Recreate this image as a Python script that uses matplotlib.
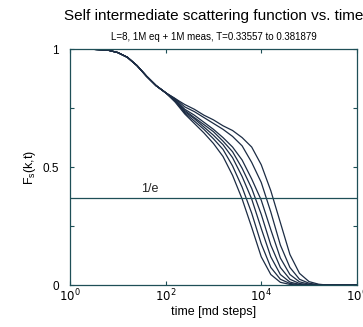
import numpy as np
import matplotlib
matplotlib.use("Agg")
import matplotlib.pyplot as plt
from matplotlib.ticker import FixedLocator, FixedFormatter

# log10 of time [md steps], shared by every curve
logt = [0.0, 0.4, 0.8, 1.0, 1.2, 1.4, 1.6, 1.8, 2.0, 2.2, 2.4, 2.6, 2.8, 3.0,
        3.2, 3.4, 3.6, 3.8, 4.0, 4.2, 4.4, 4.6, 4.8, 5.0, 5.2, 5.4, 5.6, 6.0]

# common short-time part (log t <= 2.0)
early = [1.0, 1.0, 0.995, 0.985, 0.965, 0.93, 0.885, 0.845, 0.815]

fs1 = early + [0.775, 0.725, 0.685, 0.645, 0.600, 0.545, 0.465, 0.365, 0.245, 0.120,
               0.045, 0.012, 0.003, 0.0, 0.0, 0.0, 0.0, 0.0, 0.0]
fs2 = early + [0.780, 0.730, 0.695, 0.660, 0.620, 0.575, 0.505, 0.415, 0.305, 0.175,
               0.075, 0.025, 0.007, 0.002, 0.0, 0.0, 0.0, 0.0, 0.0]
fs3 = early + [0.780, 0.735, 0.705, 0.670, 0.635, 0.595, 0.540, 0.460, 0.365, 0.240,
               0.120, 0.045, 0.013, 0.003, 0.0, 0.0, 0.0, 0.0, 0.0]
fs4 = early + [0.785, 0.740, 0.710, 0.680, 0.650, 0.610, 0.565, 0.495, 0.410, 0.300,
               0.170, 0.075, 0.025, 0.007, 0.002, 0.0, 0.0, 0.0, 0.0]
fs5 = early + [0.785, 0.745, 0.720, 0.690, 0.660, 0.625, 0.585, 0.530, 0.450, 0.360,
               0.235, 0.115, 0.045, 0.014, 0.004, 0.0, 0.0, 0.0, 0.0]
fs6 = early + [0.790, 0.755, 0.735, 0.710, 0.685, 0.660, 0.630, 0.590, 0.520, 0.435,
               0.310, 0.170, 0.075, 0.025, 0.008, 0.002, 0.0, 0.0, 0.0]
fs7 = early + [0.790, 0.765, 0.745, 0.720, 0.700, 0.675, 0.655, 0.625, 0.585, 0.510,
               0.400, 0.265, 0.130, 0.050, 0.015, 0.004, 0.0, 0.0, 0.0]
curves = [fs1, fs2, fs3, fs4, fs5, fs6, fs7]

inv_e = 1 / np.e

plt.rcParams['font.family'] = ['Liberation Sans', 'DejaVu Sans']
axcol = '#1e4f57'
linecol = '#1c2c44'

fig = plt.figure(figsize=(3.63, 3.27), dpi=100)
ax = fig.add_axes([0.193, 0.128, 0.790, 0.722])

t = 10.0 ** np.array(logt)
for fs in curves:
    ax.plot(t, fs, color=linecol, lw=0.9)

ax.axhline(inv_e, color=axcol, lw=0.9)
ax.text(47, inv_e + 0.015, '1/e', fontsize=9, ha='center', va='bottom', color='#222222')

ax.set_xscale('log')
ax.set_xlim(1, 1e6)
ax.set_ylim(0, 1)
ax.xaxis.set_major_locator(FixedLocator([1, 1e2, 1e4, 1e6]))
ax.xaxis.set_major_formatter(FixedFormatter([r'$10^0$', r'$10^2$', r'$10^4$', r'$10^6$']))
ax.xaxis.set_minor_locator(FixedLocator([]))
ax.yaxis.set_major_locator(FixedLocator([0, 0.25, 0.5, 0.75, 1]))
ax.yaxis.set_major_formatter(FixedFormatter(['0', '', '0.5', '', '1']))
ax.tick_params(direction='in', top=True, right=True, length=3, width=0.8,
               color=axcol, labelsize=8.5)
ax.tick_params(axis='y', pad=8)
ax.tick_params(axis='x', pad=2)
for s in ax.spines.values():
    s.set_color(axcol)
    s.set_linewidth(0.9)

ax.set_xlabel('time [md steps]', fontsize=9, labelpad=1)
ax.set_ylabel(r'F$_\mathregular{s}$(k,t)', fontsize=9, labelpad=3)

fig.text(0.588, 0.952, 'Self intermediate scattering function vs. time',
         fontsize=11, ha='center', va='center')
fig.text(0.588, 0.886, 'L=8, 1M eq + 1M meas, T=0.33557 to 0.381879',
         fontsize=7, ha='center', va='center')

fig.savefig('out.png', dpi=100)
